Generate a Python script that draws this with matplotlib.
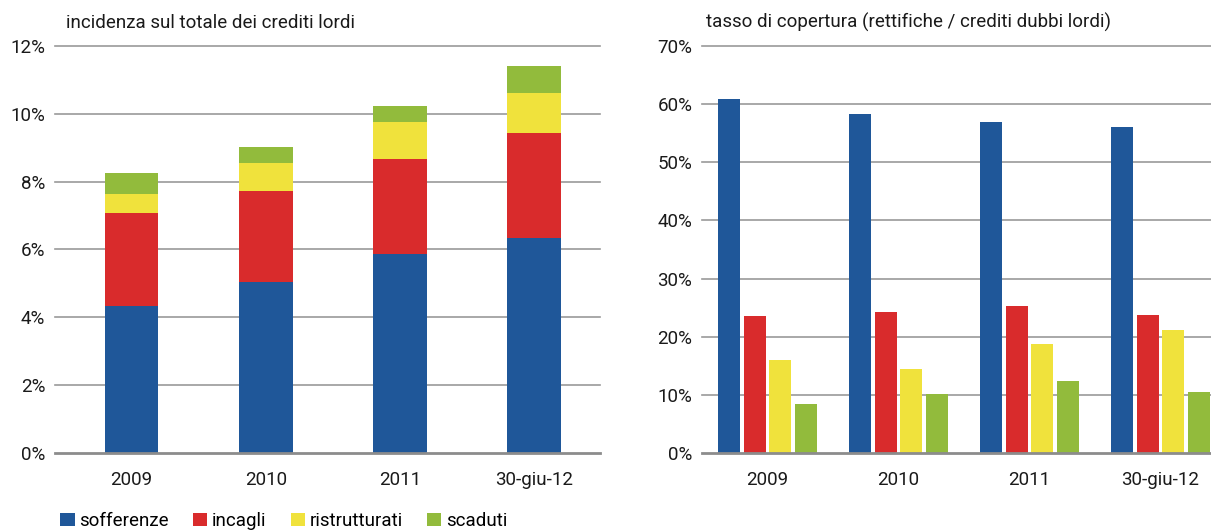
import numpy as np
import matplotlib
matplotlib.use('Agg')
import matplotlib.pyplot as plt
from matplotlib.patches import Patch

plt.rcParams['font.family'] = ['Liberation Sans Narrow', 'Roboto', 'DejaVu Sans']

# dati
categorie = ['2009', '2010', '2011', '30-giu-12']
serie = ['sofferenze', 'incagli', 'ristrutturati', 'scaduti']
colori = ['#1F5799', '#D92B2C', '#F0E23C', '#92BB3C']

# incidenza sul totale dei crediti lordi (%)
sofferenze = [4.32, 5.04, 5.87, 6.35]
incagli = [2.77, 2.68, 2.80, 3.08]
ristrutturati = [0.56, 0.84, 1.08, 1.19]
scaduti = [0.61, 0.46, 0.48, 0.78]

# tasso di copertura (%)
cop_sofferenze = [60.8, 58.3, 57.0, 56.1]
cop_incagli = [23.5, 24.2, 25.3, 23.8]
cop_ristrutturati = [16.0, 14.4, 18.7, 21.1]
cop_scaduti = [8.5, 10.2, 12.3, 10.5]

fig = plt.figure(figsize=(12.11, 5.31), dpi=100)
ax1 = fig.add_axes([0.0454, 0.1469, 0.4501, 0.7665])
ax2 = fig.add_axes([0.5797, 0.1469, 0.4327, 0.7665])

grigio = '#9a9a9a'
fs = 13.5

def stile(ax, ymax, step):
    for s in ['top', 'right', 'left']:
        ax.spines[s].set_visible(False)
    ax.spines['bottom'].set_color('#8c8c8c')
    ax.spines['bottom'].set_linewidth(2)
    ax.set_ylim(0, ymax)
    ticks = np.arange(0, ymax + step / 2, step)
    ax.set_yticks(ticks)
    ax.set_yticklabels(['%d%%' % t for t in ticks])
    for t in ticks[1:]:
        ax.axhline(t, color=grigio, lw=1.2, zorder=0, clip_on=False)
    ax.tick_params(axis='both', length=0, labelsize=fs, colors='#1a1a1a')
    ax.tick_params(axis='y', pad=7)
    ax.tick_params(axis='x', pad=13)

# grafico a sinistra: barre impilate
x = np.arange(len(categorie))
base = np.zeros(len(categorie))
for vals, c, nome in zip([sofferenze, incagli, ristrutturati, scaduti], colori, serie):
    ax1.bar(x, vals, 0.4, bottom=base, color=c, zorder=2, label=nome)
    base += np.array(vals)
ax1.set_xticks(x)
ax1.set_xticklabels(categorie)
ax1.set_xlim(-0.57, 3.49)
stile(ax1, 12, 2)
ax1.text(0.02, 1.035, 'incidenza sul totale dei crediti lordi', transform=ax1.transAxes,
         fontsize=fs, va='bottom', ha='left', color='#1a1a1a')

# grafico a destra: barre affiancate
w = 0.168
passo = 0.195
for i, (vals, c) in enumerate(zip([cop_sofferenze, cop_incagli, cop_ristrutturati, cop_scaduti], colori)):
    ax2.bar(x + (i - 1.5) * passo, vals, w, color=c, zorder=2)
ax2.set_xticks(x)
ax2.set_xticklabels(categorie)
ax2.set_xlim(-0.5, 3.5)
stile(ax2, 70, 10)
ax2.text(0.008, 1.035, 'tasso di copertura (rettifiche / crediti dubbi lordi)', transform=ax2.transAxes,
         fontsize=fs, va='bottom', ha='left', color='#1a1a1a')

# legenda
handles = [Patch(facecolor=c, edgecolor='none') for c in colori]
fig.legend(handles, serie, loc='lower left', bbox_to_anchor=(0.036, -0.03), ncol=4,
           frameon=False, fontsize=fs, handlelength=0.75, handleheight=0.75,
           handletextpad=0.25, columnspacing=1.3)

fig.savefig('out.png', dpi=100)
